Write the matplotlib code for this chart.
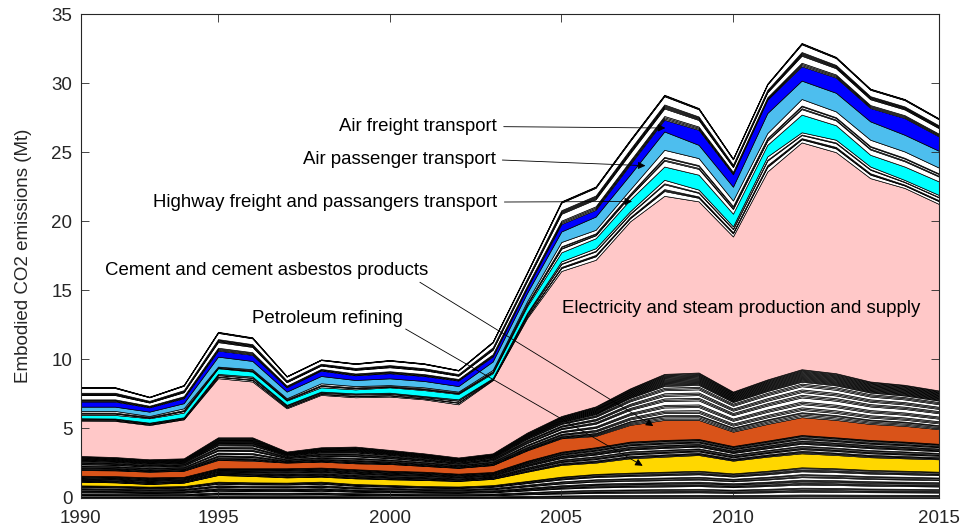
import numpy as np
import matplotlib
matplotlib.use("Agg")
import matplotlib.pyplot as plt

plt.rcParams['font.family'] = ['Liberation Sans', 'DejaVu Sans']

# Years covered (one value per year, drawn at positions 1..26)
years = list(range(1990, 2016))
tick_index = [1, 5, 10, 15, 20, 26]
tick_labels = ['1990', '1995', '2000', '2005', '2010', '2015']

# Embodied CO2 emissions by sector (Mt), bottom of the stack first
other_base = [0.88, 0.85, 0.79, 0.83, 1.15, 1.10, 1.08, 1.15, 0.98, 0.91, 0.83, 0.80, 0.90,
              1.20, 1.51, 1.71, 1.80, 1.87, 1.94, 1.75, 1.94, 2.19, 2.12, 2.00, 1.94, 1.87]
petroleum = [0.27, 0.25, 0.19, 0.25, 0.48, 0.46, 0.38, 0.36, 0.41, 0.41, 0.44, 0.40, 0.45,
             0.67, 0.85, 0.82, 1.04, 1.09, 1.14, 0.92, 1.02, 1.01, 0.96, 0.92, 0.90, 0.90]
other_mid_a = [0.43, 0.45, 0.48, 0.42, 0.49, 0.56, 0.66, 0.66, 0.66, 0.62, 0.60, 0.53, 0.50,
               0.79, 0.96, 1.11, 1.21, 1.21, 1.16, 1.06, 1.16, 1.33, 1.28, 1.25, 1.21, 1.12]
cement = [0.41, 0.42, 0.41, 0.44, 0.60, 0.55, 0.41, 0.43, 0.43, 0.49, 0.42, 0.42, 0.50,
          0.75, 0.97, 0.82, 1.21, 1.45, 1.38, 1.04, 1.21, 1.29, 1.26, 1.16, 1.14, 1.06]
other_mid_b = [1.02, 0.96, 0.90, 0.90, 1.64, 1.69, 0.80, 1.04, 1.21, 1.02, 0.91, 0.75, 0.85,
               1.29, 1.61, 2.14, 2.64, 3.33, 3.43, 2.90, 3.22, 3.47, 3.38, 3.07, 2.97, 2.80]
electricity = [2.56, 2.62, 2.48, 2.82, 4.28, 4.04, 3.13, 3.79, 3.57, 3.86, 3.91, 3.85, 5.30,
               8.28, 10.50, 10.61, 12.09, 12.89, 12.39, 11.23, 15.05, 16.42, 16.00, 14.72, 14.25, 13.50]
other_mid_c = [0.17, 0.17, 0.17, 0.15, 0.31, 0.36, 0.25, 0.24, 0.28, 0.28, 0.24, 0.36, 0.14,
               0.37, 0.70, 0.84, 0.73, 1.16, 0.85, 0.73, 1.09, 0.73, 0.90, 0.84, 0.58, 0.65]
highway = [0.24, 0.26, 0.32, 0.34, 0.41, 0.36, 0.31, 0.31, 0.29, 0.39, 0.43, 0.39, 0.36,
           0.48, 0.65, 0.72, 0.84, 0.96, 1.08, 0.92, 0.84, 1.28, 1.05, 0.85, 0.97, 0.98]
other_mid_d = [0.29, 0.29, 0.16, 0.31, 0.12, 0.17, 0.17, 0.29, 0.24, 0.16, 0.20, 0.17, 0.24,
               0.37, 0.75, 0.61, 0.73, 1.21, 1.20, 0.95, 0.85, 1.13, 1.00, 1.09, 1.09, 1.00]
air_passenger = [0.31, 0.31, 0.32, 0.37, 0.72, 0.60, 0.48, 0.53, 0.44, 0.49, 0.46, 0.40, 0.61,
                 0.60, 0.76, 0.96, 1.08, 1.33, 0.96, 1.00, 1.45, 1.33, 1.35, 1.33, 1.21, 1.22]
air_freight = [0.37, 0.37, 0.31, 0.36, 0.44, 0.44, 0.31, 0.39, 0.34, 0.37, 0.36, 0.40, 0.36,
               0.36, 0.54, 0.49, 0.73, 0.85, 1.09, 0.90, 0.97, 1.04, 1.10, 0.97, 1.21, 1.04]
other_top = [1.04, 1.04, 0.77, 0.96, 1.36, 1.27, 0.82, 0.81, 0.87, 0.96, 0.92, 0.77, 1.08,
             1.14, 1.64, 1.69, 1.80, 1.81, 1.58, 1.15, 1.16, 1.69, 1.50, 1.40, 1.38, 1.31]

# Composition of the unlabelled sector groups (shares of each group, bottom first)
base_shares = [0.04, 0.03, 0.03, 0.09, 0.03, 0.03, 0.04, 0.03, 0.10, 0.03, 0.03,
               0.04, 0.03, 0.03, 0.08, 0.03, 0.04, 0.03, 0.09, 0.03, 0.03, 0.04, 0.03]
mid_a_shares = [0.05, 0.04, 0.04, 0.08, 0.04, 0.04, 0.06, 0.04, 0.10, 0.04, 0.04,
                0.05, 0.04, 0.07, 0.04, 0.04, 0.06, 0.04, 0.03]
mid_b_shares = [0.03, 0.03, 0.03, 0.02, 0.05, 0.03, 0.03, 0.07, 0.03, 0.03,
                0.09, 0.03, 0.03, 0.06, 0.03, 0.03, 0.07, 0.03, 0.03, 0.04,
                0.02, 0.02, 0.02, 0.02, 0.02, 0.02, 0.02, 0.02, 0.02, 0.02,
                0.02, 0.02, 0.02, 0.02]
mid_c_shares = [0.30, 0.06, 0.06, 0.30, 0.06, 0.22]
mid_d_shares = [0.35, 0.06, 0.12, 0.05, 0.42]
top_shares = [0.05, 0.05, 0.05, 0.30, 0.04, 0.04, 0.04, 0.04, 0.33, 0.02, 0.02, 0.02]

WHITE = '#ffffff'
layers, colors = [], []


def add_group(total, shares):
    total = np.asarray(total, dtype=float)
    s = np.asarray(shares, dtype=float)
    s = s / s.sum()
    for w in s:
        layers.append(total * w)
        colors.append(WHITE)


def add_sector(values, color):
    layers.append(np.asarray(values, dtype=float))
    colors.append(color)


add_group(other_base, base_shares)
add_sector(petroleum, '#ffd700')
add_group(other_mid_a, mid_a_shares)
add_sector(cement, '#d95319')
add_group(other_mid_b, mid_b_shares)
add_sector(electricity, '#ffc8c8')
add_group(other_mid_c, mid_c_shares)
add_sector(highway, '#00ffff')
add_group(other_mid_d, mid_d_shares)
add_sector(air_passenger, '#4dbeee')
add_sector(air_freight, '#0000ff')
add_group(other_top, top_shares)

x = np.arange(1, len(years) + 1)

fig = plt.figure(figsize=(9.64, 5.31), dpi=100)
ax = fig.add_axes([0.0837, 0.063, 0.8903, 0.9106])

ax.stackplot(x, *layers, colors=colors, edgecolor='black', linewidth=0.5)

ax.set_xlim(1, 26)
ax.set_ylim(0, 35)
ax.set_xticks(tick_index)
ax.set_xticklabels(tick_labels)
ax.set_yticks(np.arange(0, 36, 5))

axis_color = '#262626'
for sp in ax.spines.values():
    sp.set_color(axis_color)
    sp.set_linewidth(0.8)
ax.tick_params(direction='in', length=6, width=0.6, colors=axis_color,
               top=True, right=True, labelsize=13.5)
ax.tick_params(axis='x', pad=9)
ax.tick_params(axis='y', pad=6)
ax.set_ylabel('Embodied CO2 emissions (Mt)', fontsize=13.5, color=axis_color, labelpad=14)

arrow = dict(arrowstyle='-|>', color='black', lw=0.6, mutation_scale=11,
             shrinkA=3, shrinkB=0)

fs = 13.4
ax.annotate('Air freight transport', xy=(18.03, 26.75), xytext=(13.12, 26.85),
            ha='right', va='center', fontsize=fs,
            arrowprops=dict(arrow, relpos=(1.0, 0.5)))
ax.annotate('Air passenger transport', xy=(17.45, 24.02), xytext=(13.08, 24.45),
            ha='right', va='center', fontsize=fs,
            arrowprops=dict(arrow, relpos=(1.0, 0.5)))
ax.annotate('Highway freight and passangers transport', xy=(17.06, 21.43),
            xytext=(13.14, 21.39), ha='right', va='center', fontsize=fs,
            arrowprops=dict(arrow, relpos=(1.0, 0.5)))
ax.annotate('Cement and cement asbestos products', xy=(17.68, 5.18),
            xytext=(1.71, 16.4), ha='left', va='center', fontsize=fs,
            arrowprops=dict(arrow, relpos=(0.96, 0.0), shrinkA=0))
ax.annotate('Petroleum refining', xy=(17.37, 2.30), xytext=(5.99, 12.93),
            ha='left', va='center', fontsize=fs,
            arrowprops=dict(arrow, relpos=(1.0, 0.0), shrinkA=0))
ax.text(15.03, 13.7, 'Electricity and steam production and supply',
        ha='left', va='center', fontsize=fs)

fig.savefig('out.png', dpi=100)
